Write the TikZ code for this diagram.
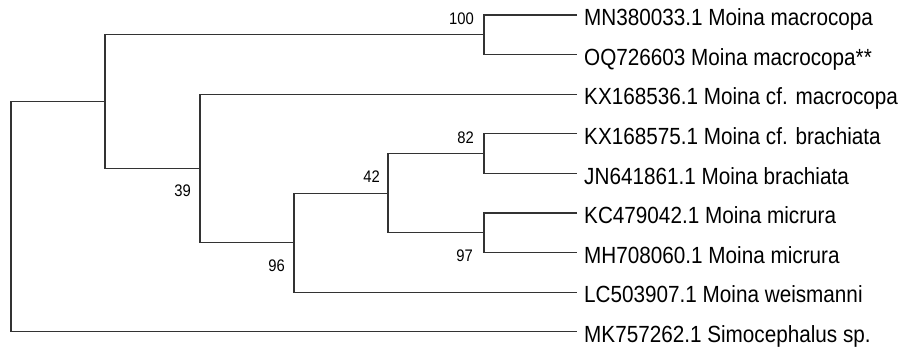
\documentclass[tikz,border=0pt]{standalone}
\usepackage{fontspec}
\setmainfont{Liberation Sans}
\usetikzlibrary{calc}
\newcommand{\tall}[1]{\scalebox{1}[1.13]{#1}}

\begin{document}
\begin{tikzpicture}[x=1pt,y=-1pt,
  branch/.style={line width=1.2pt,draw=black!80,line join=miter},
  taxon/.style={anchor=west,inner xsep=7pt,inner ysep=0pt,text height=21.2pt,text depth=0pt,font=\fontsize{20.7}{24}\selectfont},
  boot/.style={anchor=east,inner sep=0pt,font=\fontsize{14.8}{18}\selectfont}]
\useasboundingbox (0,0) rectangle (902,349);
% taxa
\node[taxon] (mn) at (577,15) {\tall{MN380033.1 Moina macrocopa}};
\node[taxon] (oq) at (577,54.6) {\tall{OQ726603 Moina macrocopa**}};
\node[taxon] (kxa) at (577,94.2) {\tall{KX168536.1 Moina cf. macrocopa}};
\node[taxon] (kxb) at (577,133.8) {\tall{KX168575.1 Moina cf. brachiata}};
\node[taxon] (jn) at (577,173.4) {\tall{JN641861.1 Moina brachiata}};
\node[taxon] (kc) at (577,213) {\tall{KC479042.1 Moina micrura}};
\node[taxon] (mh) at (577,252.6) {\tall{MH708060.1 Moina micrura}};
\node[taxon] (lc) at (577,292.2) {\tall{LC503907.1 Moina weismanni}};
\node[taxon] (mk) at (577,331.8) {\tall{MK757262.1 Simocephalus sp.}};
% internal nodes
\coordinate (n100) at (484,34.8);
\coordinate (n82) at (484,153.6);
\coordinate (n97) at (484,232.8);
\coordinate (n42) at (388,193.2);
\coordinate (n96) at (294,242.7);
\coordinate (n39) at (200,168.45);
\coordinate (nA) at (105,101.6);
\coordinate (root) at (11,216.7);
% branches
\draw[branch] (mn.west) -| (n100) |- (oq.west);
\draw[branch] (kxb.west) -| (n82) |- (jn.west);
\draw[branch] (kc.west) -| (n97) |- (mh.west);
\draw[branch] (n82) -| (n42) |- (n97);
\draw[branch] (n42) -| (n96) |- (lc.west);
\draw[branch] (kxa.west) -| (n39) |- (n96);
\draw[branch] (n100) -| (nA) |- (n39);
\draw[branch] (nA) -| (root) |- (mk.west);
% bootstrap values
\node[boot] (b100) at (474,19) {\tall{100}};
\node[boot] (b82) at (474,137.8) {\tall{82}};
\node[boot] (b97) at (473,255.6) {\tall{97}};
\node[boot] (b42) at (380,176.5) {\tall{42}};
\node[boot] (b39) at (191,191) {\tall{39}};
\node[boot] (b96) at (285,266) {\tall{96}};
\end{tikzpicture}
\end{document}
